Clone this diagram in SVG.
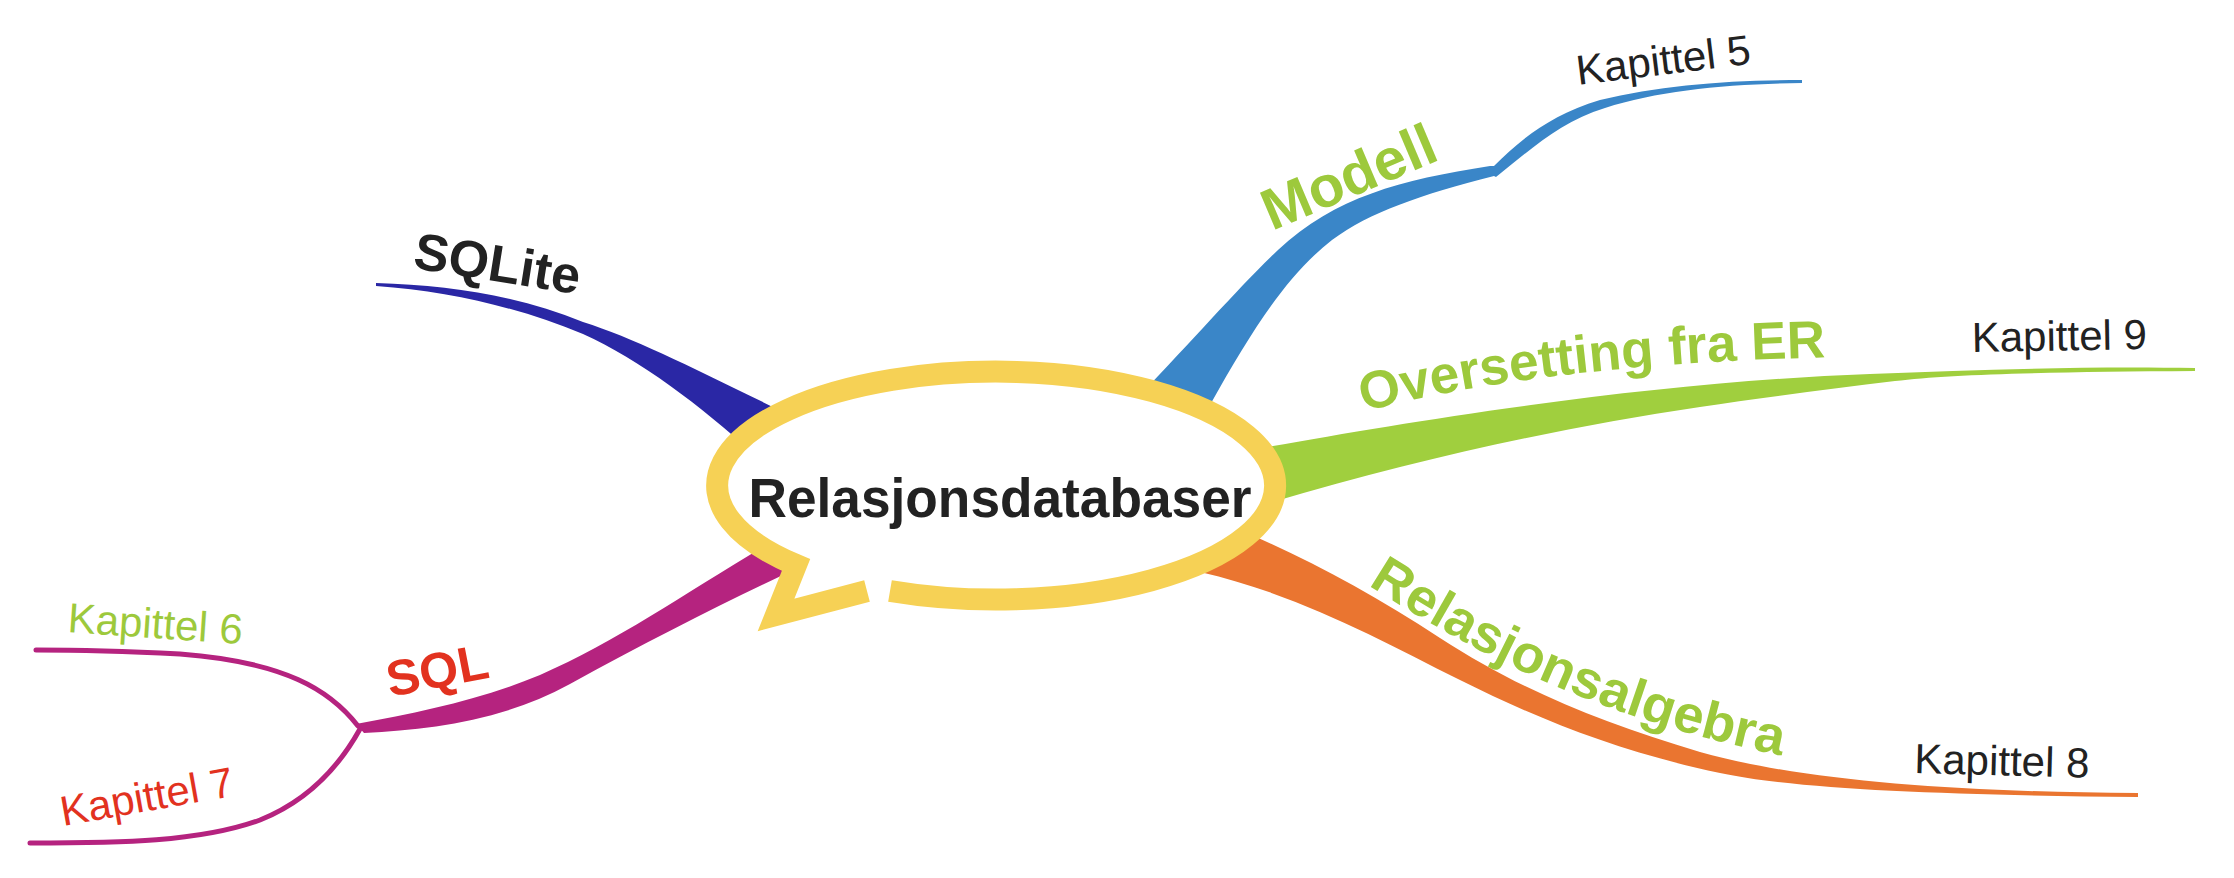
<svg xmlns="http://www.w3.org/2000/svg" width="2234" height="878" viewBox="0 0 2234 878">
  <style>
    .lbl { font-family: "Liberation Sans", Arial, Helvetica, sans-serif; }
    .big { font-weight: bold; }
    .green { fill: #9dc93c; }
    .red { fill: #e2321f; }
    .dark { fill: #222222; }
    .chap { font-size: 42px; }
    .thin { fill: none; stroke: #b5237f; stroke-width: 5; stroke-linecap: round; }
  </style>
  <defs>
    <path id="pOver" d="M 1364,412 C 1450,388 1600,362 1840,357"/>
    <path id="pRel" d="M 1368,585 C 1470,650 1600,722 1800,759"/>
  </defs>
  <rect width="2234" height="878" fill="#ffffff"/>

  <g id="connectors">
    <path id="c-sqlite" fill="#2a27a5" d="M 376,283 C 450,285 520,296 583,322 C 640,340 700,372 800,420 L 755,455 C 700,405 640,360 583,334 C 520,308 450,291 376,286 Z"/>
    <path id="c-modell" fill="#3a86c8" d="M 1140,395 C 1195,338 1238,288 1278,250 C 1335,197 1400,180 1490,166 L 1494,166 C 1520,140 1550,115 1600,100 C 1660,85 1730,80 1802,80 L 1802,83 C 1730,84 1660,90 1605,108 C 1560,122 1530,150 1496,177 L 1494,176 C 1420,195 1370,212 1332,240 C 1287,275 1252,330 1210,405 Z"/>
    <path id="c-over" fill="#a0cf3e" d="M 1250,450 C 1330,436 1420,420 1531,405 C 1640,390 1760,378 1870,374 C 1980,370 2080,366 2195,368 L 2195,371 C 2050,372 1950,374 1895,381 C 1830,389 1760,398 1700,407 C 1560,428 1420,458 1262,505 Z"/>
    <path id="c-rel" fill="#ea7530" d="M 1235,528 C 1300,555 1370,592 1440,638 C 1520,690 1600,722 1700,752 C 1800,780 1950,792 2138,793 L 2138,797 C 1950,795 1800,790 1720,773 C 1620,752 1540,720 1460,680 C 1380,640 1300,595 1200,572 Z"/>
    <path id="c-sql" fill="#b5237f" d="M 356,724 C 420,712 480,700 540,675 C 620,640 690,590 778,538 L 785,574 C 720,605 650,640 570,684 C 500,722 430,729 364,733 Z"/>
    <path id="c-k6" class="thin" d="M 358,726 C 330,690 285,662 180,654 C 120,651 70,650 36,650"/>
    <path id="c-k7" class="thin" d="M 360,729 C 340,765 310,800 260,820 C 200,842 120,843 30,843"/>
  </g>

  <g id="node-center">
    <path d="M 890,591 A 279 114 0 1 0 796,565 L 776,615 L 867,591" fill="#ffffff" stroke="#f6d155" stroke-width="22" stroke-linejoin="miter" stroke-linecap="butt"/>
    <text class="lbl big dark" x="1000" y="517" font-size="55" text-anchor="middle" textLength="503" lengthAdjust="spacingAndGlyphs">Relasjonsdatabaser</text>
  </g>

  <g id="node-sqlite">
    <text class="lbl big dark" font-size="52" transform="translate(412,268) rotate(9)">SQLite</text>
  </g>

  <g id="node-modell">
    <text class="lbl big green" font-size="58" transform="translate(1272,231) rotate(-23)">Modell</text>
  </g>

  <g id="node-kap5">
    <text class="lbl chap dark" transform="translate(1578,85) rotate(-7)">Kapittel 5</text>
  </g>

  <g id="node-over">
    <text class="lbl big green" font-size="53"><textPath href="#pOver" textLength="466" lengthAdjust="spacingAndGlyphs">Oversetting fra ER</textPath></text>
  </g>

  <g id="node-kap9">
    <text class="lbl chap dark" transform="translate(1972,352) rotate(-1)">Kapittel 9</text>
  </g>

  <g id="node-rel">
    <text class="lbl big green" font-size="53"><textPath href="#pRel" textLength="450" lengthAdjust="spacingAndGlyphs">Relasjonsalgebra</textPath></text>
  </g>

  <g id="node-kap8">
    <text class="lbl chap dark" transform="translate(1914,773) rotate(1.5)">Kapittel 8</text>
  </g>

  <g id="node-sql">
    <text class="lbl big red" font-size="50" transform="translate(390,697) rotate(-11)">SQL</text>
  </g>

  <g id="node-kap6">
    <text class="lbl chap green" transform="translate(67,632) rotate(4)">Kapittel 6</text>
  </g>

  <g id="node-kap7">
    <text class="lbl chap red" transform="translate(63,826) rotate(-10)">Kapittel 7</text>
  </g>
</svg>
